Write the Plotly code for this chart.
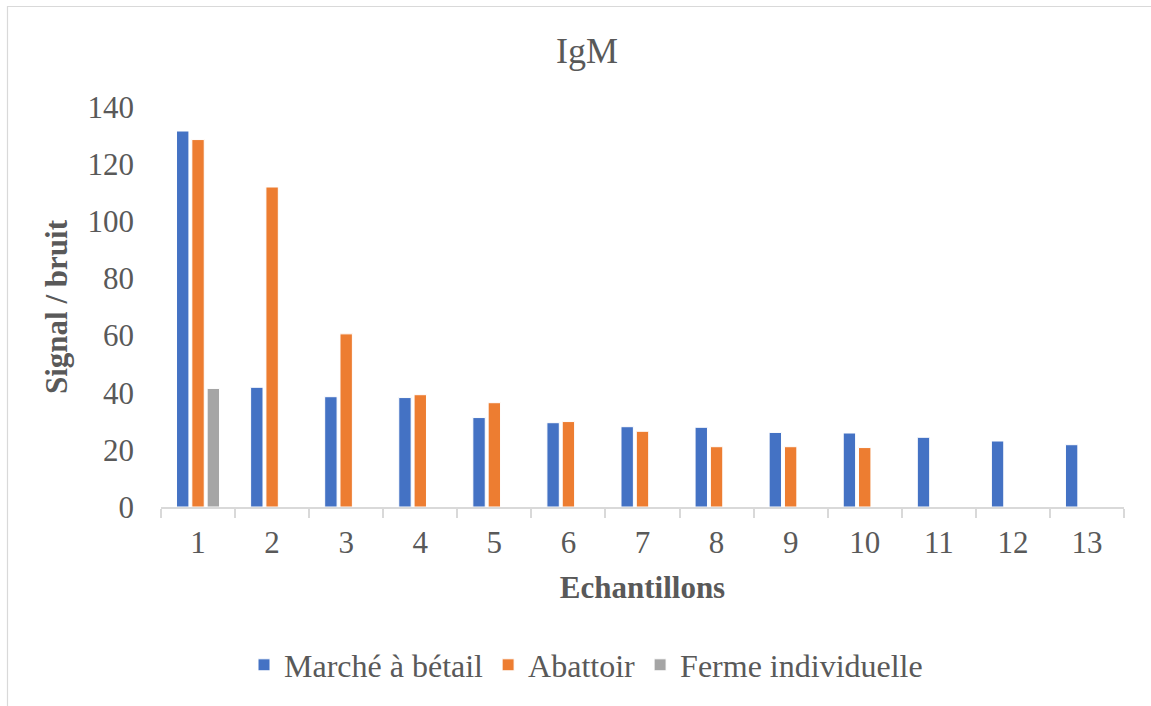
import plotly.graph_objects as go

categories = [str(i) for i in range(1, 14)]
marche = [131.6, 41.9, 38.6, 38.3, 31.3, 29.5, 28.1, 27.9, 26.1, 25.9, 24.4, 23.1, 21.8]
abattoir = [128.6, 112.0, 60.6, 39.3, 36.5, 29.9, 26.5, 21.1, 21.1, 20.8, None, None, None]
ferme = [41.5, None, None, None, None, None, None, None, None, None, None, None, None]
series_names = ["Marché à bétail", "Abattoir", "Ferme individuelle"]
colors = ["#4472C4", "#ED7D31", "#A5A5A5"]

FONT = "Liberation Serif"
TXT = "#595959"

fig = go.Figure()
for name, vals, col in zip(series_names, [marche, abattoir, ferme], colors):
    fig.add_trace(go.Bar(
        x=categories, y=vals, name=name,
        marker=dict(color=col, line=dict(color="white", width=1)),
    ))

W, H = 1151, 706
L, R, T, B = 161, 27, 107, 199
pw = W - L - R
ph = H - T - B


def px_x(p):
    return (p - L) / pw


def px_y(p):
    return (H - B - p) / ph


fig.update_layout(
    width=W, height=H,
    margin=dict(l=L, r=R, t=T, b=B, autoexpand=False),
    paper_bgcolor="white", plot_bgcolor="white",
    barmode="group", bargap=0.38, bargroupgap=0.19,
    font=dict(family=FONT, color=TXT, size=31),
    title=dict(text="IgM", x=587 / W, xref="container", xanchor="center",
               y=1 - 50 / H, yref="container", yanchor="middle",
               font=dict(family=FONT, size=36, color=TXT)),
    legend=dict(orientation="h", xref="container", yref="container",
                x=586 / W, xanchor="center", y=1 - 665 / H, yanchor="middle",
                font=dict(family=FONT, size=32, color=TXT),
                itemwidth=30, tracegroupgap=0),
    xaxis=dict(
        type="category", showgrid=False, showline=True, linecolor="#D9D9D9", linewidth=1.5,
        ticks="outside", tickson="boundaries", ticklen=9, tickcolor="#D9D9D9", tickwidth=1.5,
        ticklabelstandoff=7,
        tickfont=dict(family=FONT, size=31, color=TXT),
        title=dict(text="<b>Echantillons</b>", font=dict(family=FONT, size=31, color=TXT), standoff=17),
    ),
    yaxis=dict(
        range=[0, 140], dtick=20, showgrid=False, showline=False, zeroline=False,
        ticks="", ticklabelstandoff=26,
        tickfont=dict(family=FONT, size=31, color=TXT),
        title=dict(text="<b>Signal / bruit</b>", font=dict(family=FONT, size=31, color=TXT), standoff=10),
    ),
    shapes=[dict(type="rect", xref="paper", yref="paper",
                 x0=px_x(7.5), x1=px_x(W + 30),
                 y0=px_y(H + 30), y1=px_y(6.5),
                 line=dict(color="#D9D9D9", width=1.2), fillcolor="rgba(0,0,0,0)", layer="below")],
)

fig.write_html("out.html", config={"displayModeBar": False},
               post_script="document.body.style.margin='0';document.body.style.overflow='hidden';")
